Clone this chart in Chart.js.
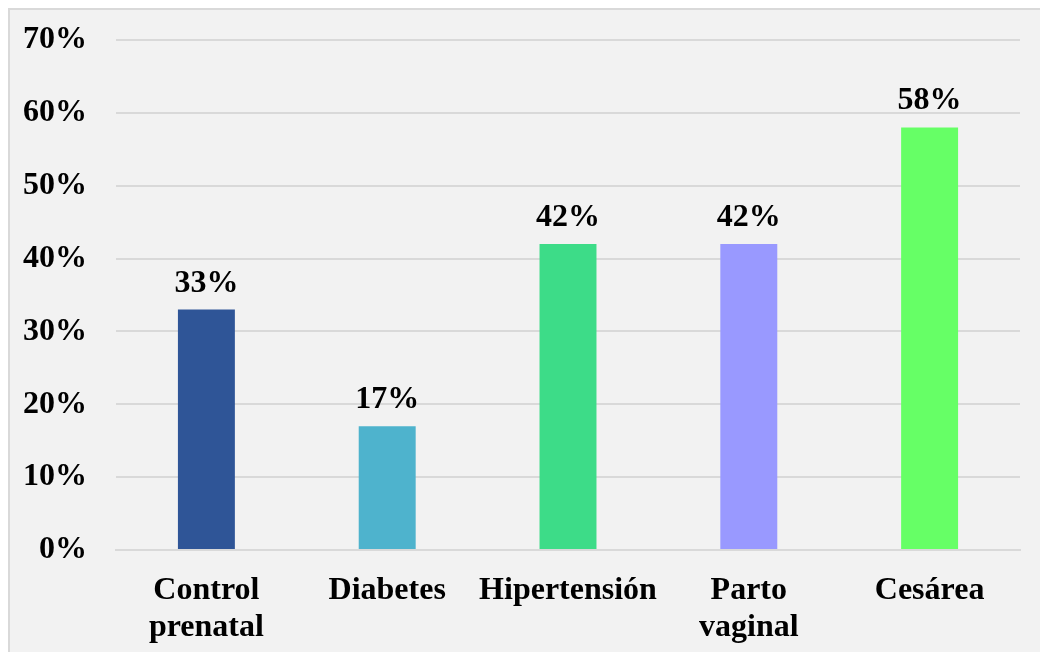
<!DOCTYPE html>
<html>
<head>
<meta charset="utf-8">
<script src="https://cdn.jsdelivr.net/npm/chart.js@4/dist/chart.umd.min.js"></script>
<style>
  html, body { margin: 0; padding: 0; background: #ffffff; width: 1040px; height: 652px; overflow: hidden; }
  #frame {
    position: absolute; left: 8px; top: 8px; width: 1030px; height: 642px;
    border-left: 2px solid #d9d9d9; border-top: 2px solid #d9d9d9;
    background: #f2f2f2;
  }
  #chart { display: block; }
</style>
</head>
<body>
<div id="frame"><canvas id="chart" width="1030" height="642"></canvas></div>
<script>
// Categories, values (percent) and colours for each bar
const categories = [["Control", "prenatal"], "Diabetes", "Hipertensión", ["Parto", "vaginal"], "Cesárea"];
const values = [33, 17, 42, 42, 58];
const barColors = ["#2F5597", "#4EB3CD", "#3DDC88", "#9999FF", "#66FF66"];
const yTicks = [0, 10, 20, 30, 40, 50, 60, 70];

const FONT = "'Liberation Serif', 'Times New Roman', serif";
const FONT_SIZE = 32;

// Writes the percentage above each bar
const valueLabels = {
  id: "valueLabels",
  afterDatasetsDraw(chart) {
    const ctx = chart.ctx;
    const meta = chart.getDatasetMeta(0);
    ctx.save();
    ctx.font = "bold " + FONT_SIZE + "px " + FONT;
    ctx.fillStyle = "#000000";
    ctx.textAlign = "center";
    ctx.textBaseline = "alphabetic";
    meta.data.forEach((bar, i) => {
      ctx.fillText(Math.round(values[i]) + "%", bar.x, bar.y - 18);
    });
    ctx.restore();
  }
};

new Chart(document.getElementById("chart"), {
  type: "bar",
  data: {
    labels: categories,
    datasets: [{
      data: values,
      backgroundColor: barColors,
      borderWidth: 0,
      categoryPercentage: 1.0,
      barPercentage: 0.315
    }]
  },
  options: {
    responsive: false,
    animation: false,
    events: [],
    layout: { padding: { top: 30, right: 20, bottom: 0, left: 0 } },
    plugins: {
      legend: { display: false },
      tooltip: { enabled: false }
    },
    scales: {
      x: {
        grid: { display: false, drawTicks: false },
        border: { display: true, color: "#d9d9d9", width: 2 },
        ticks: {
          color: "#000000",
          padding: 22,
          font: { family: FONT, size: FONT_SIZE, weight: "bold", lineHeight: "37px" },
          maxRotation: 0,
          autoSkip: false
        },
        afterFit(scale) {
          scale.height = 102;
          scale.paddingLeft = 0;
          scale.paddingRight = 0;
        }
      },
      y: {
        min: 0,
        max: 70,
        afterBuildTicks(scale) { scale.ticks = yTicks.map(v => ({ value: v })); },
        grid: { color: "#d9d9d9", lineWidth: 2, drawTicks: false },
        border: { display: false },
        ticks: {
          color: "#000000",
          padding: 29,
          font: { family: FONT, size: FONT_SIZE, weight: "bold" },
          callback: v => v + "%"
        },
        afterFit(scale) {
          scale.width = 106;
          scale.paddingTop = 0;
          scale.paddingBottom = 0;
        }
      }
    }
  },
  plugins: [valueLabels]
});
</script>
</body>
</html>
